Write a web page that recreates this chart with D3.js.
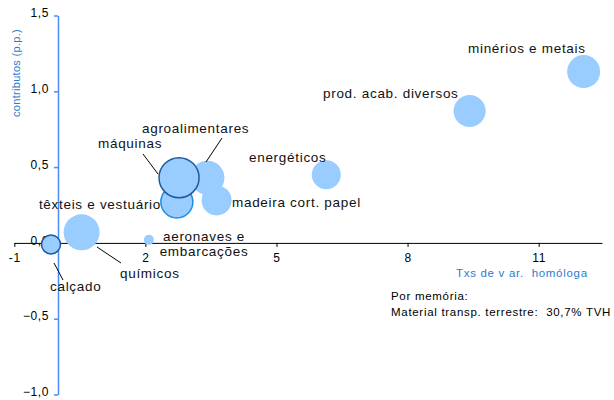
<!DOCTYPE html>
<html>
<head>
<meta charset="utf-8">
<script src="https://cdn.jsdelivr.net/npm/d3@7"></script>
<style>
  body { margin: 0; background: #fff; }
  text { font-family: "Liberation Sans", Arial, sans-serif; }
</style>
</head>
<body>
<div id="chart"></div>
<script>
// data
var sectors = ["calçado", "químicos", "têxteis e vestuário", "agroalimentares", "máquinas",
  "madeira cort. papel", "energéticos", "aeronaves e embarcações", "prod. acab. diversos", "minérios e metais"];
var growth = [-0.16, 0.54, 2.72, 3.42, 2.77, 3.63, 6.14, 2.08, 9.42, 12.03];   // Txs de var. homóloga
var contrib = [-0.01, 0.07, 0.27, 0.43, 0.43, 0.28, 0.45, 0.02, 0.87, 1.13];   // contributos (p.p.)
var weight = [4.5, 16.2, 12.8, 14.5, 20, 11.2, 10.5, 1.25, 12.8, 13.6];      // bubble size
var outline = [1, 0, 2, 0, 1, 0, 0, 0, 0, 0];   // 0 none, 1 dark, 2 medium
var xTicks = [-1, 2, 5, 8, 11];
var yTicks = [-1.0, -0.5, 0.0, 0.5, 1.0, 1.5];

var svgWidth = 614, svgHeight = 400;
var svg = d3.select("#chart").append("svg")
  .attr("width", svgWidth)
  .attr("height", svgHeight);

var xScale = d3.scaleLinear().domain([-1, 12.45]).range([14.3, 602]);
var yScale = d3.scaleLinear().domain([-1, 1.5]).range([394.5, 15.5]);
var rScale = d3.scaleSqrt().domain([0, 20]).range([0, 20]);
var fmt = function(v) { return d3.format(".1f")(v).replace(".", ","); };

// x axis (crosses at y = 0)
var xAxis = svg.append("g")
  .attr("transform", `translate(0, ${yScale(0)})`)
  .call(d3.axisBottom(xScale).tickValues(xTicks).tickSize(4).tickSizeOuter(0).tickFormat(d3.format("d")));
xAxis.select(".domain").attr("stroke", "#000");
xAxis.selectAll(".tick line").attr("stroke", "#000");
xAxis.selectAll(".tick text").attr("font-size", 12).attr("letter-spacing", "0.6px")
  .attr("fill", "#000").attr("dy", "1.05em")
  .text(d => d < 0 ? "-" + Math.abs(d) : d);

// y axis (crosses at x = 0)
var yAxis = svg.append("g")
  .attr("transform", `translate(${xScale(0)}, 0)`)
  .call(d3.axisLeft(yScale).tickValues(yTicks).tickSize(4).tickSizeOuter(0).tickFormat(fmt));
yAxis.select(".domain").attr("stroke", "#4d8cff").attr("stroke-width", 1.5);
yAxis.selectAll(".tick line").attr("stroke", "#4d8cff").attr("stroke-width", 1.5);
yAxis.selectAll(".tick text").attr("font-size", 12).attr("letter-spacing", "0.6px")
  .attr("fill", "#000").attr("x", -9).attr("dy", "0.1em");

// axis titles
svg.append("text")
  .attr("transform", `translate(20, 73) rotate(-90)`)
  .attr("text-anchor", "middle")
  .attr("font-size", 11)
  .attr("letter-spacing", "0.3px")
  .attr("fill", "#2a7bd0")
  .text("contributos (p.p.)");
svg.append("text")
  .attr("x", 456).attr("y", 277)
  .attr("font-size", 11.5)
  .attr("letter-spacing", "0.7px")
  .attr("fill", "#2a7bd0")
  .attr("xml:space", "preserve")
  .text("Txs de v ar.  homóloga");

svg.append("text").attr("x", 391).attr("y", 300).attr("font-size", 11.5)
  .attr("letter-spacing", "0.7px").text("Por memória:");
svg.append("text").attr("x", 391).attr("y", 316).attr("font-size", 11.5)
  .attr("letter-spacing", "0.7px")
  .attr("xml:space", "preserve")
  .text("Material transp. terrestre:  30,7% TVH");

// bubbles
var stroke = ["none", "#1d5a9c", "#1e8ee6"];
var data = sectors.map((s, i) => ({ name: s, x: growth[i], y: contrib[i], w: weight[i], o: outline[i] }));
svg.append("g").selectAll("circle")
  .data(data)
  .enter()
  .append("circle")
  .attr("cx", d => xScale(d.x))
  .attr("cy", d => yScale(d.y))
  .attr("r", d => rScale(d.w))
  .attr("fill", "#99ccff")
  .attr("stroke", d => stroke[d.o])
  .attr("stroke-width", 1.5);

// leader lines
var leaders = [
  [54, 263, 63, 280],
  [97, 247, 121, 263],
  [143, 154, 158, 174],
  [222, 138, 206, 162]
];
svg.append("g").selectAll("line")
  .data(leaders)
  .enter()
  .append("line")
  .attr("x1", d => d[0]).attr("y1", d => d[1])
  .attr("x2", d => d[2]).attr("y2", d => d[3])
  .attr("stroke", "#000").attr("stroke-width", 1);

// labels
var labels = [
  { t: "calçado", x: 50, y: 291, a: "start" },
  { t: "químicos", x: 120, y: 278, a: "start" },
  { t: "têxteis e vestuário", x: 161, y: 209, a: "end" },
  { t: "agroalimentares", x: 142, y: 133, a: "start" },
  { t: "máquinas", x: 98, y: 148, a: "start" },
  { t: "madeira cort. papel", x: 232, y: 207, a: "start" },
  { t: "energéticos", x: 249, y: 162, a: "start" },
  { t: "aeronaves e", x: 204, y: 241, a: "middle" },
  { t: "embarcações", x: 204, y: 256, a: "middle" },
  { t: "prod. acab. diversos", x: 323, y: 98, a: "start" },
  { t: "minérios e metais", x: 468, y: 53, a: "start" }
];
svg.append("g").selectAll("text")
  .data(labels)
  .enter()
  .append("text")
  .attr("x", d => d.x).attr("y", d => d.y)
  .attr("text-anchor", d => d.a)
  .attr("font-size", 13.5)
  .attr("letter-spacing", "0.7px")
  .attr("xml:space", "preserve")
  .attr("fill", "#111")
  .text(d => d.t);
</script>
</body>
</html>
